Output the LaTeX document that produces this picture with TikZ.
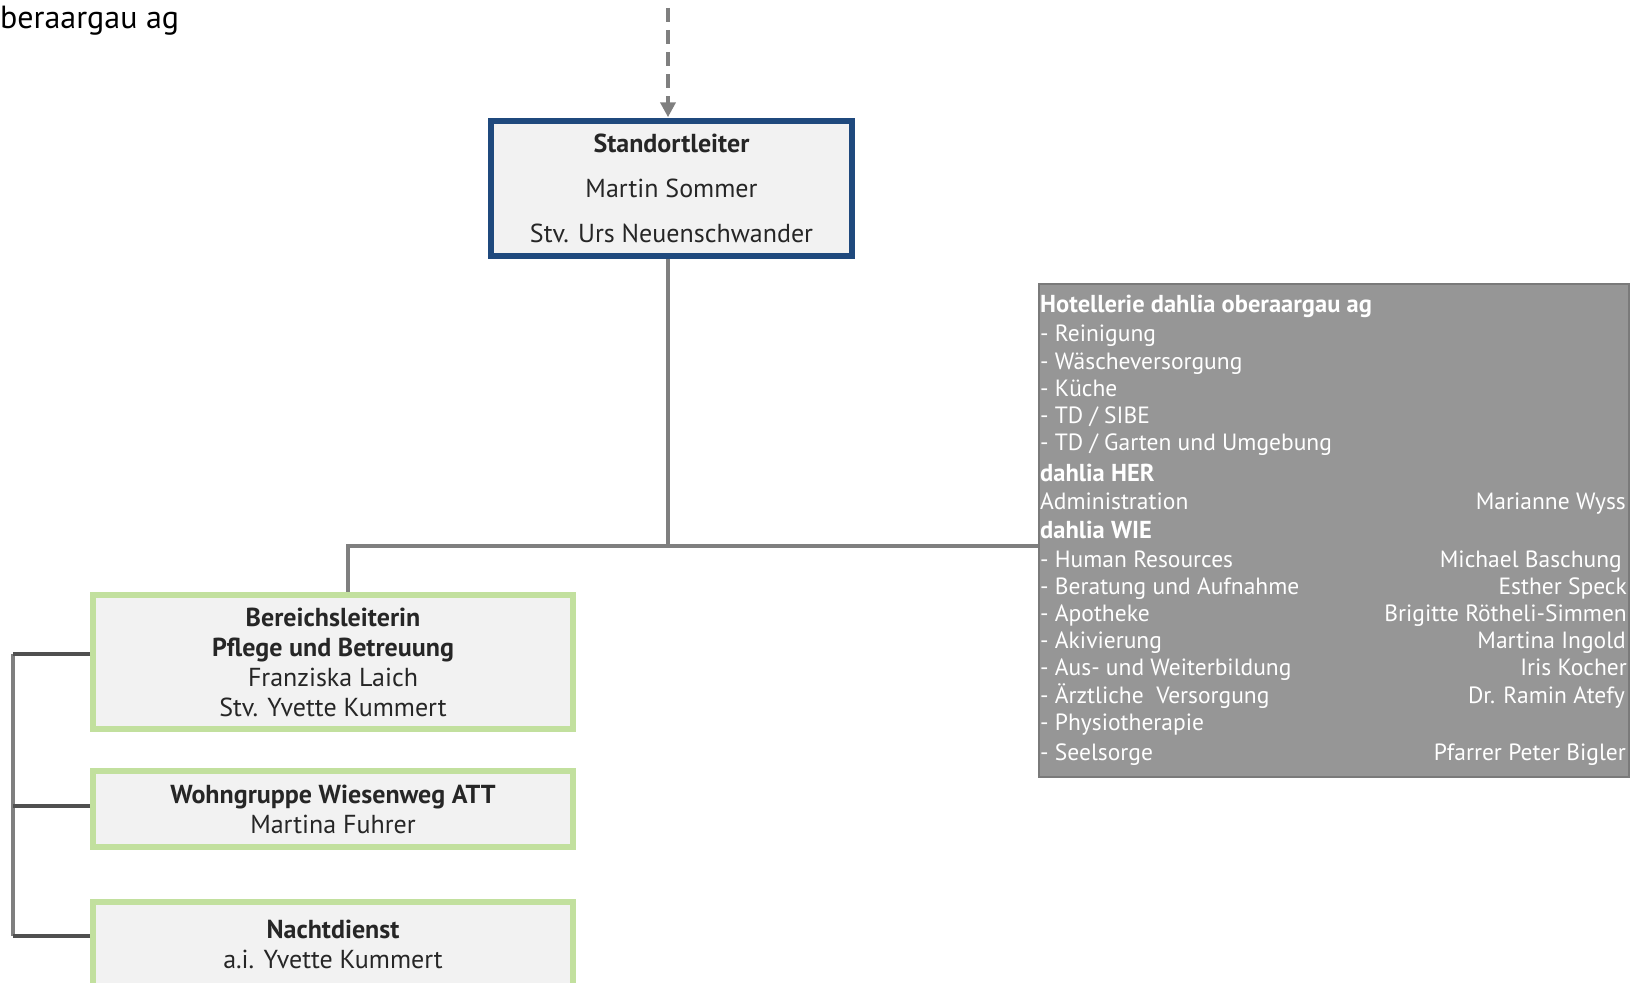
\documentclass[tikz,border=0pt]{standalone}
\usepackage{fontspec}
\setmainfont{PT Sans}
\usetikzlibrary{arrows.meta}
\definecolor{bluebd}{HTML}{1F497D}
\definecolor{greenbd}{HTML}{C2E09E}
\definecolor{boxfill}{HTML}{F2F2F2}
\definecolor{hotfill}{HTML}{969696}
\definecolor{hotbd}{HTML}{7A7A7A}
\definecolor{linegray}{HTML}{7F7F7F}
\definecolor{darkline}{HTML}{505050}
\definecolor{txt}{HTML}{262626}
\begin{document}
\begin{tikzpicture}[x=1pt,y=-1pt,
  gbox/.style={draw=greenbd, line width=6pt, fill=boxfill, text=txt, align=center,
    inner sep=0pt, minimum width=480pt, font=\fontsize{26}{30}\selectfont},
  bbox/.style={draw=bluebd, line width=5.5pt, fill=boxfill, text=txt, align=center,
    inner sep=0pt, minimum width=361pt, minimum height=135pt, font=\fontsize{26}{45}\selectfont},
  hl/.style={anchor=base west, text=white, inner sep=0pt, font=\fontsize{23.5}{23}\selectfont},
  hr/.style={anchor=base east, text=white, inner sep=0pt, font=\fontsize{23.5}{23}\selectfont},
  hh/.style={anchor=base west, text=white, inner sep=0pt, font=\fontsize{24.5}{25}\selectfont\bfseries},
  conn/.style={draw=linegray, line width=4pt},
  bconn/.style={draw=darkline, line width=4pt}
]
\useasboundingbox (0,0) rectangle (1640,982);

\node[anchor=base west, inner sep=0pt, font=\fontsize{32}{32}\selectfont] (title) at (0,29) {beraargau ag};

\node[bbox] (std) at (671.5,188.5) {\textbf{Standortleiter}\\Martin Sommer\\Stv. Urs Neuenschwander};

\coordinate (top) at (668,8);
\draw[draw=linegray, line width=4pt, dash pattern=on 14pt off 8pt, -{Triangle[length=15pt,width=15pt]}] (top) -- ([yshift=1pt]top |- std.north);

\node[draw=hotbd, line width=2pt, fill=hotfill, minimum width=590pt, minimum height=493pt, inner sep=0pt] (hot) at (1334,530.5) {};

\node[gbox, minimum height=134pt] (bl) at (333,662) {\textbf{Bereichsleiterin}\\\textbf{Pflege und Betreuung}\\Franziska Laich\\Stv. Yvette Kummert};
\node[gbox, minimum height=76pt] (wg) at (333,809) {\textbf{Wohngruppe Wiesenweg ATT}\\Martina Fuhrer};
\node[gbox, minimum height=85pt] (nd) at (333,944) {\textbf{Nachtdienst}\\a.i. Yvette Kummert};

% main connectors
\coordinate (j) at (668,546);
\draw[conn] (std.south -| j) -- (j);
\draw[conn] (j) -- (hot.west |- j);
\draw[conn] (j) -| (bl.north -| 348,0);

% left bracket
\coordinate (b1) at (13,654);
\coordinate (b2) at (13,806);
\coordinate (b3) at (13,936);
\draw[conn] (b1) -- (b3);
\draw[bconn] (bl.west |- b1) -- (b1);
\draw[bconn] (wg.west |- b2) -- (b2);
\draw[bconn] (nd.west |- b3) -- (b3);

% hotellerie text
\node[hh] (h1) at (1040,312) {Hotellerie dahlia oberaargau ag};
\node[hl] (h2) at (1040,341) {- Reinigung};
\node[hl] (h3) at (1040,369) {- Wäscheversorgung};
\node[hl] (h4) at (1040,396) {- Küche};
\node[hl] (h5) at (1040,423) {- TD / SIBE};
\node[hl] (h6) at (1040,450) {- TD / Garten und Umgebung};
\node[hh] (h7) at (1040,481) {dahlia HER};
\node[hl] (h8) at (1040,509) {Administration};
\node[hr] (r8) at (1626,509) {Marianne Wyss};
\node[hh] (h9) at (1040,538) {dahlia WIE};
\node[hl] (h10) at (1040,567) {- Human Resources};
\node[hr] (r10) at (1622,567) {Michael Baschung};
\node[hl] (h11) at (1040,594) {- Beratung und Aufnahme};
\node[hr] (r11) at (1627,594) {Esther Speck};
\node[hl] (h12) at (1040,621) {- Apotheke};
\node[hr] (r12) at (1627,621) {Brigitte Rötheli-Simmen};
\node[hl] (h13) at (1040,648) {- Akivierung};
\node[hr] (r13) at (1626,648) {Martina Ingold};
\node[hl] (h14) at (1040,675) {- Aus- und Weiterbildung};
\node[hr] (r14) at (1627,675) {Iris Kocher};
\node[hl] (h15) at (1040,703) {- Ärztliche\ \ Versorgung};
\node[hr] (r15) at (1625,703) {Dr. Ramin Atefy};
\node[hl] (h16) at (1040,730) {- Physiotherapie};
\node[hl] (h17) at (1040,760) {- Seelsorge};
\node[hr] (r17) at (1626,760) {Pfarrer Peter Bigler};
\end{tikzpicture}
\end{document}
